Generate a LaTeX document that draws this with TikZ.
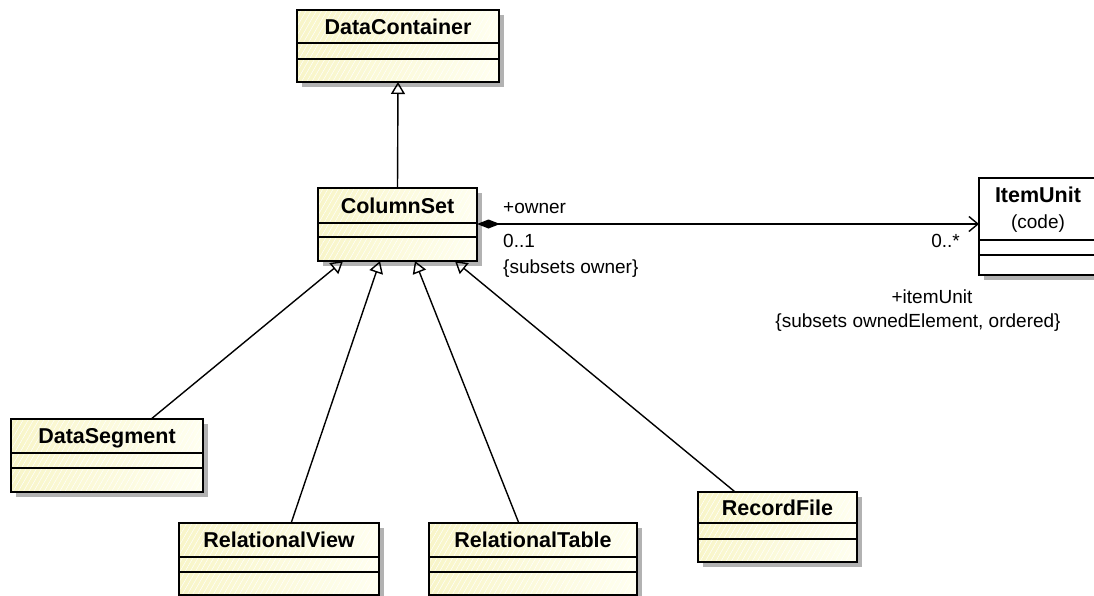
\documentclass[tikz,border=0pt]{standalone}
\usepackage{fontspec}
\setmainfont{Liberation Sans}
\usetikzlibrary{arrows.meta,shadows,calc,patterns.meta}
\definecolor{clsL}{RGB}{248,245,200}
\definecolor{clsR}{RGB}{255,255,240}
\definecolor{shd}{RGB}{178,178,178}
\tikzset{
  x=1pt, y=-1pt,
  boxbase/.style={draw=black, line width=1.7pt, anchor=north west, inner sep=0pt, outer sep=0pt,
    drop shadow={shadow xshift=5pt, shadow yshift=-5pt, fill=shd, opacity=1}},
  cls/.style={boxbase, left color=clsL, right color=clsR,
    postaction={pattern={Lines[angle=60, distance=4.5pt, line width=0.5pt]}, pattern color=white},
    postaction={draw=black, line width=1.7pt}},
  wcls/.style={boxbase, fill=white},
  sep/.style={draw=black, line width=1.5pt},
  cname/.style={font=\fontsize{21.5}{24}\selectfont\bfseries, inner sep=0pt, anchor=base},
  lbl/.style={font=\fontsize{19}{22}\selectfont, inner sep=0pt},
  gen/.style={line width=1.4pt, -{Triangle[open, length=12pt, width=14pt, line width=1.4pt]}},
  comp/.style={line width=1.4pt, {Diamond[length=23pt, width=9pt]}-{Straight Barb[length=9pt, width=15pt, line width=1.4pt]}},
}
\newcommand\clsbox[8]{%
  \node[#1, minimum width=#5pt, minimum height=#6pt] (#2) at (#3,#4) {};
  \draw[sep] (#2.west |- 0,#7) -- (#2.east |- 0,#7);
  \draw[sep] (#2.west |- 0,#8) -- (#2.east |- 0,#8);
}
\begin{document}
\begin{tikzpicture}
\useasboundingbox (0,0) rectangle (1094,595);
\clip (0,0) rectangle (1094,595);

% classes
\clsbox{cls}{dc}{297}{10}{202}{72}{43}{59}
\node[cname] (dct) at (398,34) {DataContainer};

\clsbox{cls}{cs}{318}{188}{159}{73}{223}{237}
\node[cname] (cst) at (397.5,213) {ColumnSet};

\clsbox{wcls}{iu}{979}{178}{125}{97}{240}{255}
\node[cname] (iut) at (1038,202) {ItemUnit};
\node[lbl, anchor=base] (iuc) at (1038,228) {(code)};

\clsbox{cls}{ds}{11}{419}{192}{73}{453}{468}
\node[cname] (dst) at (107,443) {DataSegment};

\clsbox{cls}{rv}{179}{523}{200}{72}{557}{572}
\node[cname] (rvt) at (279,547) {RelationalView};

\clsbox{cls}{rt}{429}{523}{208}{72}{557}{572}
\node[cname] (rtt) at (533,547) {RelationalTable};

\clsbox{cls}{rf}{698}{492}{159}{70}{523}{539}
\node[cname] (rft) at (777.5,515) {RecordFile};

% generalization
\coordinate (g1) at (343,261);
\coordinate (g2) at (380,261);
\coordinate (g3) at (415,261);
\coordinate (g4) at (455,261);
\draw[gen] (cs.north) -- (dc.south);
\draw[gen] (ds) -- (g1);
\draw[gen] (rv) -- (g2);
\draw[gen] (rt) -- (g3);
\draw[gen] (rf) -- (g4);

% composition
\draw[comp] (cs.east |- 0,224) -- (iu.west |- 0,224);
\node[lbl, anchor=base west] (l1) at (503,213) {+owner};
\node[lbl, anchor=base west] (l2) at (503,247) {0..1};
\node[lbl, anchor=base west] (l3) at (503,273) {\{subsets owner\}};
\node[lbl, anchor=base east] (l4) at (960,247) {0..*};
\node[lbl, anchor=base] (l5) at (932,303) {+itemUnit};
\node[lbl, anchor=base] (l6) at (918,327) {\{subsets ownedElement, ordered\}};
\end{tikzpicture}
\end{document}
